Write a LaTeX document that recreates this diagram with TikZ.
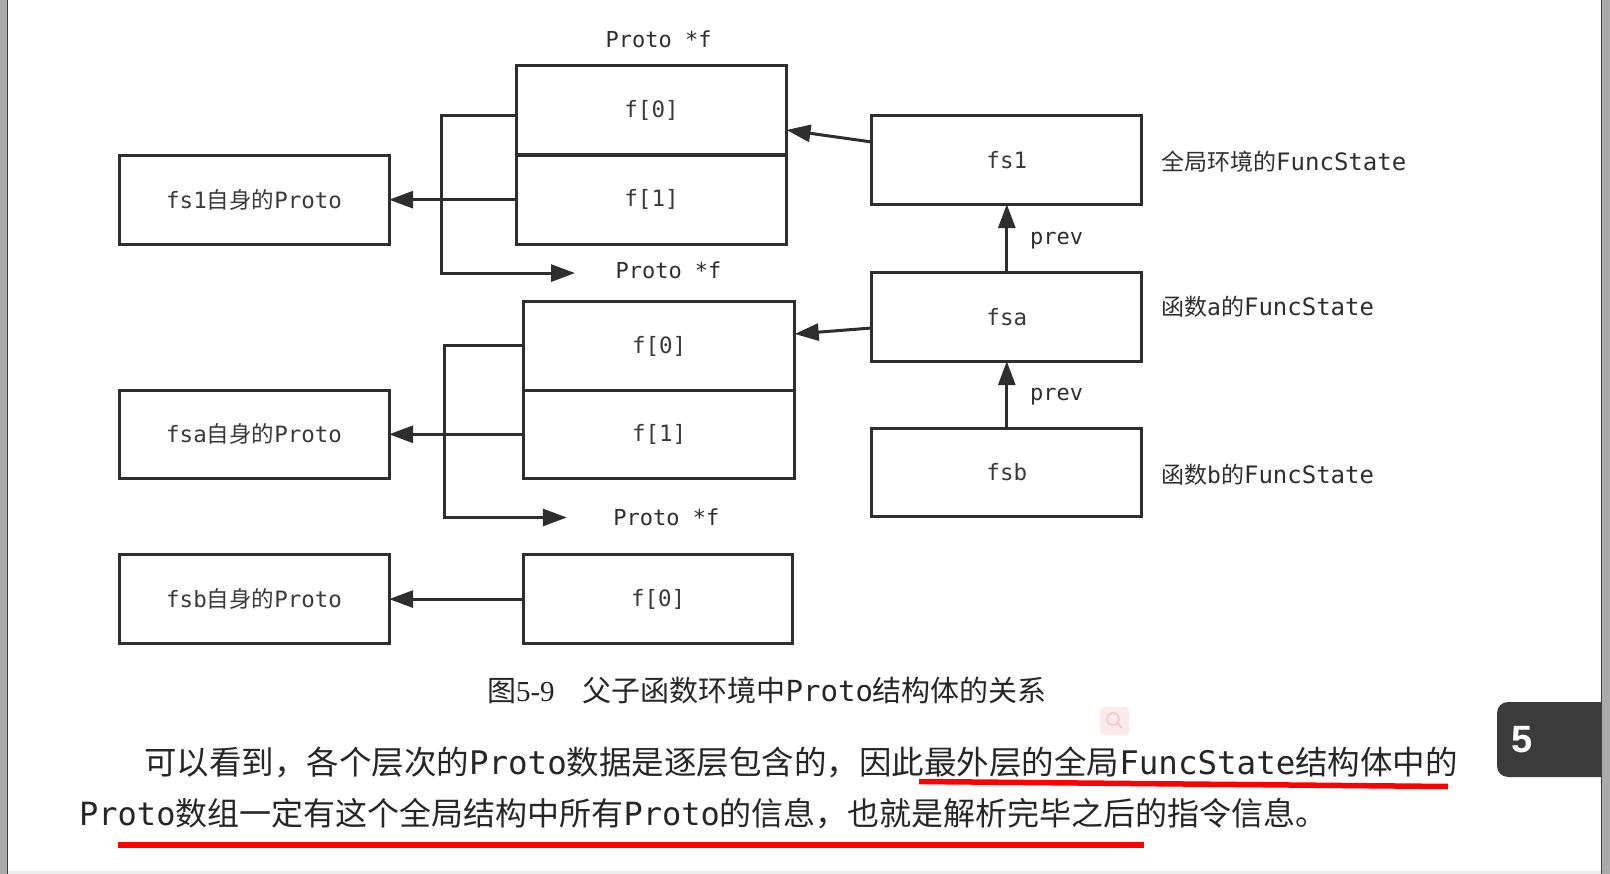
\documentclass[tikz,border=0pt]{standalone}
\usepackage{fontspec}
\setmainfont{Noto Sans CJK SC}
\newfontfamily\monof{DejaVu Sans Mono}
\newfontfamily\tabf{Liberation Sans}
\newfontfamily\serf{Liberation Serif}
\usetikzlibrary{arrows.meta}
\newcommand{\m}[1]{{\monof #1}}
\definecolor{ink}{HTML}{2E2E2E}
\definecolor{boxtext}{HTML}{3A3A3A}
\definecolor{paratext}{HTML}{262626}
\definecolor{edgegray}{HTML}{AAAAAA}
\definecolor{tabgray}{HTML}{3B3B3B}
\definecolor{pinkbg}{HTML}{FCEAEA}
\definecolor{pinkline}{HTML}{F3C4C4}
\definecolor{hlred}{HTML}{FF0000}
\begin{document}
\begin{tikzpicture}[x=1pt,y=-1pt,
  box/.style={draw=ink, line width=3pt, minimum width=270pt, minimum height=89pt,
    inner sep=0pt, outer sep=0pt, font=\fontsize{22.5}{26}\selectfont, text=boxtext},
  arr/.style={draw=ink, line width=3pt, -{Triangle[length=24pt,width=17pt]}},
  plbl/.style={font=\fontsize{22}{26}\selectfont\monof, text=ink, inner sep=0pt},
  side/.style={anchor=west, inner sep=0pt, font=\fontsize{23}{28}\selectfont, text=ink},
  para/.style={anchor=west, inner sep=0pt, font=\fontsize{32}{38}\selectfont, text=paratext},
  redline/.style={draw=hlred, line width=5.5pt},
]
\useasboundingbox (0,0) rectangle (1610,874);
\fill[white] (0,0) rectangle (1610,874);

% Proto arrays
\node[box] (top0) at (651.5,110.4) {\m{f[0]}};
\node[box] (top1) at (651.5,199.7) {\m{f[1]}};
\node[box, minimum width=271pt, minimum height=88.3pt] (mid0) at (659.2,346) {\m{f[0]}};
\node[box, minimum width=271pt, minimum height=88.3pt] (mid1) at (659.2,434.3) {\m{f[1]}};
\node[box, minimum width=269pt] (bot0) at (658.2,599.1) {\m{f[0]}};

% own protos
\node[box] (p1) at (254.1,199.7) {\m{fs1}自身的\m{Proto}};
\node[box, minimum height=88.3pt] (pa) at (254.1,434.3) {\m{fsa}自身的\m{Proto}};
\node[box] (pb) at (254.1,599.1) {\m{fsb}自身的\m{Proto}};

% FuncStates
\node[box] (fs1) at (1006.8,159.7) {\m{fs1}};
\node[box] (fsa) at (1006.8,316.7) {\m{fsa}};
\node[box, minimum height=88.3pt] (fsb) at (1006.8,472.3) {\m{fsb}};

% labels
\node[plbl] (l1) at (658.7,39) {Proto *f};
\node[plbl] (l2) at (668.5,270) {Proto *f};
\node[plbl] (l3) at (666.4,517.5) {Proto *f};
\node[side] (s1) at (1161,162) {全局环境的{\fontsize{24}{28}\selectfont\monof FuncState}};
\node[side] (s2) at (1161,307) {函数\m{a}的{\fontsize{24}{28}\selectfont\monof FuncState}};
\node[side] (s3) at (1161,474.4) {函数\m{b}的{\fontsize{24}{28}\selectfont\monof FuncState}};
\node[plbl, anchor=west] (pv1) at (1030,240.5) {prev};
\node[plbl, anchor=west] (pv2) at (1030,396.5) {prev};

% connectors
\coordinate (k1) at (441.5,273.1);
\coordinate (t1) at (575,273.1);
\coordinate (k2) at (444.6,517.5);
\coordinate (t2) at (566.8,517.5);
\draw[arr] ([yshift=17.7pt]fs1.west) -- ([yshift=-19.6pt]top0.east);
\draw[arr] ([yshift=-11.3pt]fsa.west) -- ([yshift=12pt]mid0.east);
\draw[arr] (fsa.north) -- (fs1.south);
\draw[arr] (fsb.north) -- (fsa.south);
\draw[arr] (top1.west) -- (p1.east);
\draw[arr] (mid1.west) -- (pa.east);
\draw[arr] (bot0.west) -- (pb.east);
\draw[arr] ([yshift=-5.6pt]top0.west) -| (k1) -- (t1);
\draw[arr] (mid0.west) -| (k2) -- (t2);

% caption
\node[inner sep=0pt, font=\fontsize{29}{34}\selectfont, text=paratext] (cap) at (767,690)
  {图{\serf 5-9}\hspace{28pt}父子函数环境中\m{Proto}结构体的关系};

% paragraph
\node[para, font=\fontsize{32.5}{38}\selectfont] (pl1) at (143.8,762) {可以看到，各个层次的\m{Proto}数据是逐层包含的，因此最外层的全局\m{FuncState}结构体中的};
\node[para] (pl2) at (79,813.2) {\m{Proto}数组一定有这个全局结构中所有\m{Proto}的信息，也就是解析完毕之后的指令信息。};
\draw[redline] (919,781.5) -- (1448,786.5);
\draw[redline] (118,845) -- (1144,845);

% faint search icon
\fill[pinkbg, rounded corners=4pt] (1100,707) rectangle (1129,735);
\draw[pinkline, line width=1.5pt] (1113,719) circle (6pt);
\draw[pinkline, line width=1.5pt] (1117.5,723.5) -- (1122,728);

% page tab
\fill[tabgray, rounded corners=11pt] (1497,702) rectangle (1630,777);
\node[inner sep=0pt, text=white, font=\fontsize{38}{40}\selectfont\tabf\bfseries] (tab5) at (1522,740) {5};

% page edges
\fill[edgegray] (0,0) rectangle (7,874);
\draw[black!75, line width=1pt] (7,0) -- (7,874);
\fill[edgegray] (1601,0) rectangle (1610,874);
\draw[black!75, line width=1pt] (1601,0) -- (1601,874);
\fill[black!7] (8,871) rectangle (1600.5,874);
\end{tikzpicture}
\end{document}
